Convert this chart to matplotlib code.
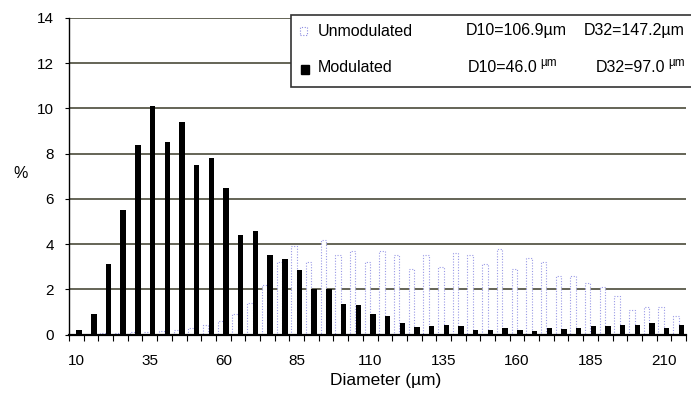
import numpy as np
import matplotlib
matplotlib.use('Agg')
import matplotlib.pyplot as plt
from matplotlib.patches import Rectangle

plt.rcParams['font.family'] = ['Liberation Sans', 'DejaVu Sans']

# size classes (um), one bar pair per class
diameters = [10, 15, 20, 25, 30, 35, 40, 45, 50, 55,
             60, 65, 70, 75, 80, 85, 90, 95, 100, 105,
             110, 115, 120, 125, 130, 135, 140, 145, 150, 155,
             160, 165, 170, 175, 180, 185, 190, 195, 200, 205,
             210, 215]
modulated = [0.2, 0.9, 3.1, 5.5, 8.4, 10.1, 8.5, 9.4, 7.5, 7.8,
             6.5, 4.4, 4.6, 3.5, 3.35, 2.85, 2.0, 2.0, 1.35, 1.3,
             0.92, 0.81, 0.53, 0.32, 0.37, 0.4, 0.37, 0.19, 0.19, 0.3,
             0.19, 0.16, 0.29, 0.24, 0.3, 0.36, 0.38, 0.4, 0.44, 0.5,
             0.3, 0.42]
unmodulated = [0.0, 0.0, 0.05, 0.05, 0.1, 0.1, 0.15, 0.2, 0.3, 0.4,
               0.6, 0.9, 1.4, 2.2, 3.2, 3.9, 3.2, 4.2, 3.5, 3.7,
               3.2, 3.7, 3.5, 2.9, 3.5, 3.0, 3.6, 3.5, 3.1, 3.8,
               2.9, 3.4, 3.2, 2.6, 2.6, 2.3, 2.1, 1.7, 1.1, 1.2,
               1.2, 0.8]
label_every = 5

W, H = 691, 395
fig = plt.figure(figsize=(W / 100, H / 100), dpi=100)
ax = fig.add_axes([69 / W, 1 - 334.5 / H, (686 - 69) / W, (334.5 - 18) / H])

x = np.arange(len(diameters))
bw = 0.37
ax.bar(x - 0.19, unmodulated, bw, facecolor='white', edgecolor='#9a9ae6',
       linewidth=0.8, linestyle=(0, (1, 1.5)), zorder=2)
ax.bar(x + 0.19, modulated, bw, color='black', zorder=3)

ax.set_xlim(-0.5, len(diameters) - 0.5)
ax.set_ylim(0, 14)
ax.set_yticks(range(0, 15, 2))
ax.yaxis.grid(True, color='#4a4a3a', linewidth=1.2)
ax.set_axisbelow(True)

ax.set_xticks(x[::label_every])
ax.set_xticklabels([str(d) for d in diameters[::label_every]])
ax.set_xticks(np.arange(len(diameters) + 1) - 0.5, minor=True)
ax.tick_params(axis='x', which='major', length=0, pad=14, labelsize=11)
ax.tick_params(axis='x', which='minor', length=4, width=0.8, direction='out')
ax.tick_params(axis='y', length=3, width=0.8, pad=8, labelsize=11)

for s in ['top', 'right']:
    ax.spines[s].set_visible(False)
ax.spines['left'].set_linewidth(1.0)
ax.spines['bottom'].set_linewidth(1.6)

fig.text(21 / W, 1 - 174 / H, '%', fontsize=11.5, ha='center', va='center')
fig.text(386 / W, 1 - 381 / H, 'Diameter (\u00b5m)', fontsize=12.5,
         ha='center', va='center')

# legend box (custom, runs off the right edge like the original)
def fx(px):
    return px / W

def fy(py):
    return 1 - py / H

box = Rectangle((fx(291), fy(87)), fx(720) - fx(291), fy(15) - fy(87),
                transform=fig.transFigure, facecolor='white',
                edgecolor='#333333', linewidth=1.2, zorder=5, clip_on=False)
fig.add_artist(box)
fig.add_artist(Rectangle((fx(300), fy(35)), 7 / W, 8 / H, transform=fig.transFigure,
                         facecolor='white', edgecolor='#8a8ae0', linewidth=0.8,
                         linestyle=(0, (1, 1.5)), zorder=6))
fig.add_artist(Rectangle((fx(301), fy(74)), 8 / W, 9 / H, transform=fig.transFigure,
                         facecolor='black', edgecolor='black', zorder=6))

ts = 11.5
fig.text(fx(318), fy(31), 'Unmodulated', fontsize=ts, va='center', zorder=7)
fig.text(fx(318), fy(68), 'Modulated', fontsize=ts, va='center', zorder=7)
fig.text(fx(466), fy(31), 'D10=106.9\u00b5m', fontsize=ts, va='center', zorder=7)
fig.text(fx(584), fy(31), 'D32=147.2\u00b5m', fontsize=ts, va='center', zorder=7)
fig.text(fx(468), fy(68), 'D10=46.0', fontsize=ts, va='center', zorder=7)
fig.text(fx(540), fy(63), '\u00b5m', fontsize=8.5, va='center', zorder=7)
fig.text(fx(596), fy(68), 'D32=97.0', fontsize=ts, va='center', zorder=7)
fig.text(fx(668), fy(63), '\u00b5m', fontsize=8.5, va='center', zorder=7)

fig.savefig('out.png', dpi=100)
